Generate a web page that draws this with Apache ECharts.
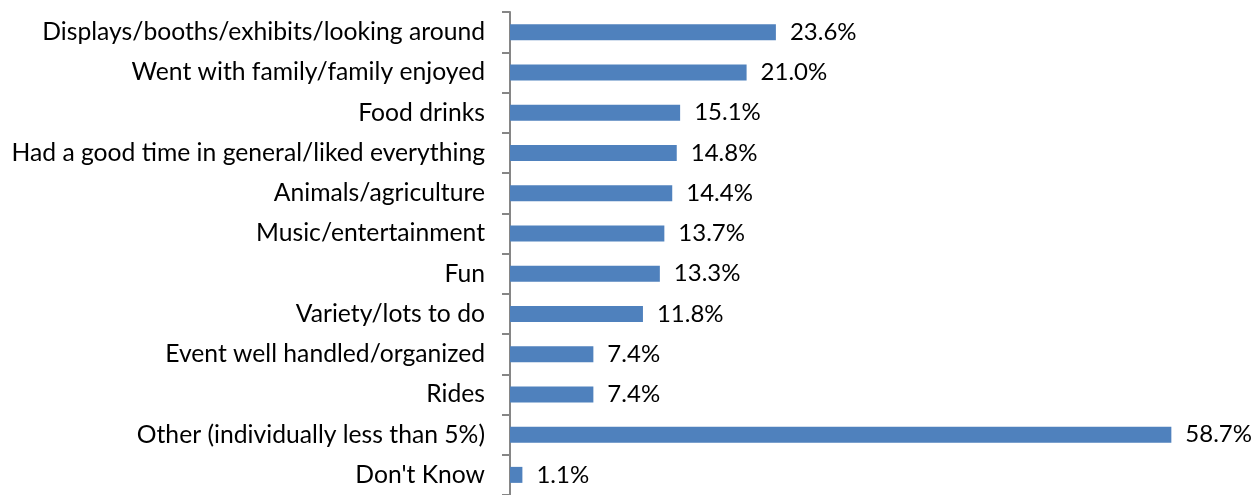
<!DOCTYPE html>
<html>
<head>
<meta charset="utf-8">
<script src="https://cdn.jsdelivr.net/npm/echarts@6/dist/echarts.min.js"></script>
<style>
  html, body { margin: 0; padding: 0; background: #fff; }
  #chart { width: 1259px; height: 495px; }
</style>
</head>
<body>
<div id="chart"></div>
<script>
// Things people liked most about the event (share of responses, %)
const categories = [
  "Displays/booths/exhibits/looking around",
  "Went with family/family enjoyed",
  "Food drinks",
  "Had a good time in general/liked everything",
  "Animals/agriculture",
  "Music/entertainment",
  "Fun",
  "Variety/lots to do",
  "Event well handled/organized",
  "Rides",
  "Other (individually less than 5%)",
  "Don't Know"
];
const shares = [23.6, 21.0, 15.1, 14.8, 14.4, 13.7, 13.3, 11.8, 7.4, 7.4, 58.7, 1.1];

const font = "Lato, 'Open Sans', sans-serif";
const chart = echarts.init(document.getElementById("chart"));
chart.setOption({
  animation: false,
  grid: { left: 510, top: 12, height: 491, right: 73 },
  xAxis: {
    type: "value",
    min: 0,
    max: 60,
    show: false
  },
  yAxis: {
    type: "category",
    data: categories,
    inverse: true,
    axisLine: { lineStyle: { color: "#868686", width: 2 } },
    axisTick: { show: true, interval: 0, length: 8, lineStyle: { color: "#868686", width: 2 } },
    axisLabel: { color: "#000", fontFamily: font, fontSize: 24.7, margin: 25, interval: 0 }
  },
  series: [{
    type: "bar",
    data: shares,
    barWidth: 16,
    itemStyle: { color: "#4F81BD" },
    label: {
      show: true,
      position: "right",
      distance: 14,
      color: "#000",
      fontFamily: font,
      fontSize: 24,
      formatter: p => p.value.toFixed(1) + "%"
    }
  }]
});
</script>
</body>
</html>
